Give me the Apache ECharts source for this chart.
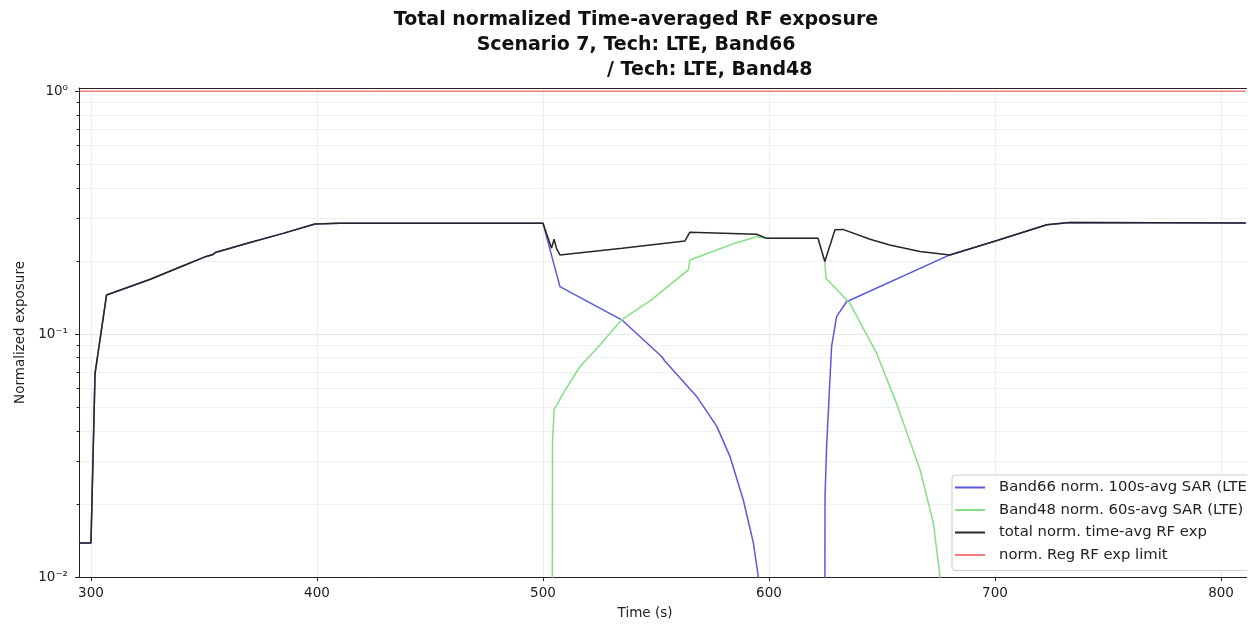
<!DOCTYPE html>
<html>
<head>
<meta charset="utf-8">
<script src="https://cdn.jsdelivr.net/npm/echarts@6/dist/echarts.min.js"></script>
<style>
html,body{margin:0;padding:0;background:#fff;}
#chart{width:1258px;height:626px;}
</style>
</head>
<body>
<div id="chart"></div>
<script>
// ---- data ----
const xTicks = [300, 400, 500, 600, 700, 800];
const yMajorTicks = [0.01, 0.1, 1];
const yMinorTicks = [0.02,0.03,0.04,0.05,0.06,0.07,0.08,0.09,0.2,0.3,0.4,0.5,0.6,0.7,0.8,0.9];

const totalTime  = [295, 300, 301.8, 306.9, 326, 340, 351, 354, 355, 370, 385, 399.1, 410, 500, 503.8, 504.9, 506, 507.5, 535, 562.8, 565, 594.5, 599, 621.7, 624.7, 629.2, 632.7, 644.7, 653.4, 666.8, 680, 700.9, 722.9, 733, 811];
const totalValue = [0.0138, 0.0138, 0.069, 0.145, 0.168, 0.19, 0.209, 0.213, 0.217, 0.238, 0.26, 0.284, 0.286, 0.286, 0.226, 0.246, 0.225, 0.212, 0.226, 0.242, 0.263, 0.258, 0.248, 0.248, 0.199, 0.269, 0.27, 0.246, 0.233, 0.219, 0.212, 0.243, 0.282, 0.288, 0.287];

const band66Time  = [295, 300, 301.8, 306.9, 326, 340, 351, 354, 355, 370, 385, 399.1, 410, 500, 507.5, 534.8, 552.5, 553.9, 568, 576.9, 582.7, 588.6, 593.1, 595.3, 598, 624.3, 624.8, 625.5, 627.7, 629.9, 634.3, 680, 700.9, 722.9, 733, 811];
const band66Value = [0.0138, 0.0138, 0.069, 0.145, 0.168, 0.19, 0.209, 0.213, 0.217, 0.238, 0.26, 0.284, 0.286, 0.286, 0.157, 0.1146, 0.0809, 0.0775, 0.0554, 0.0417, 0.0314, 0.0208, 0.0138, 0.01, 0.0001, 0.0001, 0.0215, 0.0345, 0.089, 0.118, 0.136, 0.212, 0.243, 0.282, 0.288, 0.287];

const band48Time  = [295, 503.8, 504.2, 504.9, 509, 516.4, 525.2, 534.8, 547.8, 564.3, 565, 576.8, 585, 594.5, 599, 621.7, 624.7, 625.2, 635.8, 647.6, 656.4, 666.8, 672.7, 675.7, 678, 811];
const band48Value = [0.0001, 0.0001, 0.035, 0.0488, 0.0572, 0.0736, 0.0903, 0.1146, 0.138, 0.184, 0.202, 0.222, 0.237, 0.252, 0.248, 0.248, 0.199, 0.17, 0.134, 0.0835, 0.052, 0.0277, 0.0167, 0.01, 0.0001, 0.0001];

const limitTime  = [295, 811];
const limitValue = [1, 1];

const seriesNames = [
  'Band66 norm. 100s-avg SAR (LTE)',
  'Band48 norm. 60s-avg SAR (LTE)',
  'total norm. time-avg RF exp',
  'norm. Reg RF exp limit'
];
const seriesColors = ['#5a5ad8', '#84e084', '#262626', '#f27c7c'];

function zip(xs, ys){ return xs.map((x,i)=>[x, ys[i]]); }
const supMap = {'0':'⁰','1':'¹','2':'²','-':'⁻'};
function powLabel(v){
  const e = Math.round(Math.log10(v));
  return '10' + String(e).split('').map(c=>supMap[c]).join('');
}

const chart = echarts.init(document.getElementById('chart'), null, {renderer:'canvas'});
const font = 'DejaVu Sans';
const X_MIN = 294.7, X_MAX = 811.5, Y_MIN = 0.01, Y_MAX = 1.032;

function lineSeries(i, data, z){
  return {
    name: seriesNames[i], type: 'line', data: data,
    symbol: 'none', showSymbol: false, clip: true, z: z,
    lineStyle: {color: seriesColors[i], width: 1.5}, itemStyle: {color: seriesColors[i]}
  };
}

const option = {
  animation: false,
  backgroundColor: '#ffffff',
  title: [
    {
      text: 'Total normalized Time-averaged RF exposure\nScenario 7, Tech: LTE, Band66',
      left: 636, top: 8, padding: 0, textAlign: 'center',
      textStyle: {fontFamily: font, fontWeight: 'bold', fontSize: 19, color: '#111', lineHeight: 25}
    },
    {
      text: '/ Tech: LTE, Band48',
      left: 607, top: 58, padding: 0,
      textStyle: {fontFamily: font, fontWeight: 'bold', fontSize: 19, color: '#111', lineHeight: 25}
    }
  ],
  grid: {left: 79, right: 11, top: 88, bottom: 49, containLabel: false},
  legend: {
    orient: 'vertical', left: 952, top: 475,
    data: seriesNames,
    icon: 'rect',
    itemWidth: 30, itemHeight: 2, itemGap: 7.5,
    padding: [5, 6, 8, 3],
    backgroundColor: '#ffffff', borderColor: '#cccccc', borderWidth: 1, borderRadius: 3,
    textStyle: {fontFamily: font, fontSize: 14.8, lineHeight: 14, color: '#222', padding: [0, 0, 0, 9]}
  },
  xAxis: [
    {
      type: 'value', min: X_MIN, max: X_MAX,
      name: 'Time (s)', nameLocation: 'middle', nameGap: 29,
      nameTextStyle: {fontFamily: font, fontSize: 13.5, color: '#222', padding: [0, 36, 0, 0]},
      axisLine: {show: true, onZero: false, lineStyle: {color: '#222', width: 1}},
      axisTick: {show: true, inside: false, length: 4, customValues: xTicks, lineStyle: {color: '#222'}},
      axisLabel: {show: true, margin: 9, customValues: xTicks, fontFamily: font, fontSize: 13.5, color: '#222'},
      splitLine: {show: true, lineStyle: {color: '#ececec', width: 1}}
    },
    {
      type: 'value', position: 'top', min: X_MIN, max: X_MAX,
      axisLine: {show: true, onZero: false, lineStyle: {color: '#222', width: 1}},
      axisTick: {show: false}, axisLabel: {show: false}, splitLine: {show: false}
    }
  ],
  yAxis: [
    {
      type: 'log', logBase: 10, min: Y_MIN, max: Y_MAX,
      name: 'Normalized exposure', nameLocation: 'middle', nameGap: 52, nameRotate: 90,
      nameTextStyle: {fontFamily: font, fontSize: 13.5, color: '#222'},
      axisLine: {show: true, onZero: false, lineStyle: {color: '#222', width: 1}},
      axisTick: {show: true, length: 4, customValues: yMajorTicks, lineStyle: {color: '#222'}},
      axisLabel: {show: true, margin: 11, customValues: yMajorTicks, fontFamily: font, fontSize: 13.5, color: '#222',
        formatter: v => powLabel(v)},
      splitLine: {show: true, lineStyle: {color: '#e8e8e8', width: 1}}
    },
    {
      type: 'log', logBase: 10, min: Y_MIN, max: Y_MAX, position: 'left',
      axisLine: {show: false},
      axisTick: {show: true, length: 2.5, customValues: yMinorTicks, lineStyle: {color: '#222'}},
      axisLabel: {show: false},
      splitLine: {show: true, lineStyle: {color: '#f0f0f0', width: 1}}
    }
  ],
  series: [
    lineSeries(0, zip(band66Time, band66Value), 2),
    lineSeries(1, zip(band48Time, band48Value), 3),
    lineSeries(2, zip(totalTime, totalValue), 4),
    lineSeries(3, zip(limitTime, limitValue), 5)
  ],
  graphic: [
    {type: 'rect', right: 0, top: 0, z: 1000, shape: {width: 11, height: 626}, style: {fill: '#ffffff'}}
  ]
};
chart.setOption(option);
</script>
</body>
</html>
